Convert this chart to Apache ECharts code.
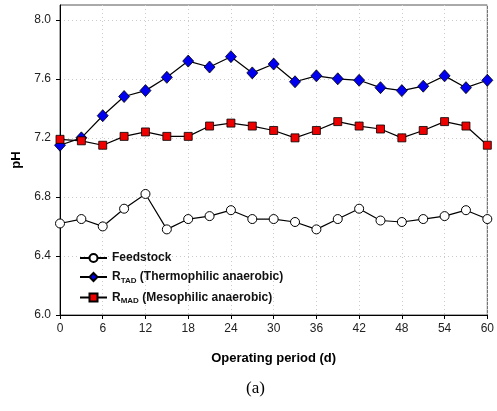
<!DOCTYPE html>
<html>
<head>
<meta charset="utf-8">
<script src="https://cdn.jsdelivr.net/npm/echarts@6/dist/echarts.min.js"></script>
<style>
    html, body { margin: 0; padding: 0; background: #fff; }
    #chart { width: 497px; height: 411px; }
</style>
</head>
<body>
<div id="chart"></div>
<script>
// operating days (every 3 d)
var days = [0, 3, 6, 9, 12, 15, 18, 21, 24, 27, 30, 33, 36, 39, 42, 45, 48, 51, 54, 57, 60]
var feedstock = [6.62, 6.65, 6.60, 6.72, 6.82, 6.58, 6.65, 6.67, 6.71, 6.65, 6.65, 6.63, 6.58, 6.65, 6.72, 6.64, 6.63, 6.65, 6.67, 6.71, 6.65]
var rTAD = [7.15, 7.20, 7.35, 7.48, 7.52, 7.61, 7.72, 7.68, 7.75, 7.64, 7.70, 7.58, 7.62, 7.60, 7.59, 7.54, 7.52, 7.55, 7.62, 7.54, 7.59]
var rMAD = [7.19, 7.18, 7.15, 7.21, 7.24, 7.21, 7.21, 7.28, 7.30, 7.28, 7.25, 7.20, 7.25, 7.31, 7.28, 7.26, 7.20, 7.25, 7.31, 7.28, 7.15]
var xTicks = [0, 6, 12, 18, 24, 30, 36, 42, 48, 54, 60]
var yTicks = [6.0, 6.4, 6.8, 7.2, 7.6, 8.0]

function pairs(vals) {
    return days.map(function (d, i) { return [d, vals[i]] })
}

var chart = echarts.init(document.getElementById('chart'))

var lineStyle = { color: '#000', width: 1.2 }

chart.setOption({
    animation: false,
    grid: {
        left: 60, right: 6, top: 5, bottom: 96,
        show: true,
        borderColor: '#555',
        borderWidth: 1
    },
    legend: {
        orient: 'vertical',
        left: 74,
        top: 247,
        itemWidth: 27,
        itemHeight: 10,
        itemGap: 7,
        textStyle: {
            fontFamily: 'Liberation Sans',
            fontSize: 12,
            fontWeight: 'bold',
            color: '#111',
            rich: {
                b: { fontFamily: 'Liberation Sans', fontSize: 12, fontWeight: 'bold', color: '#111' },
                s: { fontFamily: 'Liberation Sans', fontSize: 8, fontWeight: 'bold', color: '#111', padding: [7, 0, 0, 0] }
            }
        },
        formatter: function (name) {
            if (name === 'rTAD') return '{b|R}{s|TAD}{b| (Thermophilic anaerobic)}'
            if (name === 'rMAD') return '{b|R}{s|MAD}{b| (Mesophilic anaerobic)}'
            return '{b|' + name + '}'
        },
        data: ['Feedstock', 'rTAD', 'rMAD']
    },
    xAxis: {
        type: 'value',
        min: 0, max: 60, interval: 6,
        name: 'Operating period (d)',
        nameLocation: 'middle',
        nameGap: 37,
        nameTextStyle: { fontFamily: 'Liberation Sans', fontSize: 13, fontWeight: 'bold', color: '#000' },
        axisLine: { lineStyle: { color: '#000', width: 1 } },
        axisTick: { show: true, length: 4, lineStyle: { color: '#000' } },
        axisLabel: { fontFamily: 'Liberation Sans', fontSize: 12, color: '#222', margin: 8, showMaxLabel: true },
        splitLine: { show: true, lineStyle: { color: '#ccc', type: [1, 3], width: 1 } }
    },
    yAxis: {
        type: 'value',
        min: 6.0, max: 8.1, interval: 0.4,
        name: 'pH',
        nameLocation: 'middle',
        nameGap: 36,
        nameRotate: 90,
        nameTextStyle: { fontFamily: 'Liberation Sans', fontSize: 13, fontWeight: 'bold', color: '#000' },
        axisLine: { show: true, lineStyle: { color: '#000', width: 1 } },
        axisTick: { show: true, length: 4, lineStyle: { color: '#000' }, customValues: yTicks },
        axisLabel: {
            fontFamily: 'Liberation Sans', fontSize: 12, color: '#222', margin: 9,
            customValues: yTicks,
            formatter: function (v) { return v.toFixed(1) }
        },
        splitLine: { show: true, lineStyle: { color: '#ccc', type: [1, 3], width: 1 } }
    },
    series: [
        {
            name: 'Feedstock', type: 'line', data: pairs(feedstock),
            symbol: 'circle', symbolSize: 9,
            itemStyle: { color: '#fff', borderColor: '#000', borderWidth: 1 },
            lineStyle: lineStyle, z: 3
        },
        {
            name: 'rTAD', type: 'line', data: pairs(rTAD),
            symbol: 'diamond', symbolSize: [11, 12],
            itemStyle: { color: '#0000ee', borderColor: '#000', borderWidth: 0.8 },
            lineStyle: lineStyle, z: 3
        },
        {
            name: 'rMAD', type: 'line', data: pairs(rMAD),
            symbol: 'rect', symbolSize: 8,
            itemStyle: { color: '#ee0000', borderColor: '#000', borderWidth: 0.8 },
            lineStyle: lineStyle, z: 3
        }
    ],
    graphic: [{
        type: 'text',
        left: 246,
        top: 380,
        style: { text: '(a)', fontFamily: 'Liberation Serif', fontSize: 17, fill: '#000' }
    }]
})
</script>
</body>
</html>
